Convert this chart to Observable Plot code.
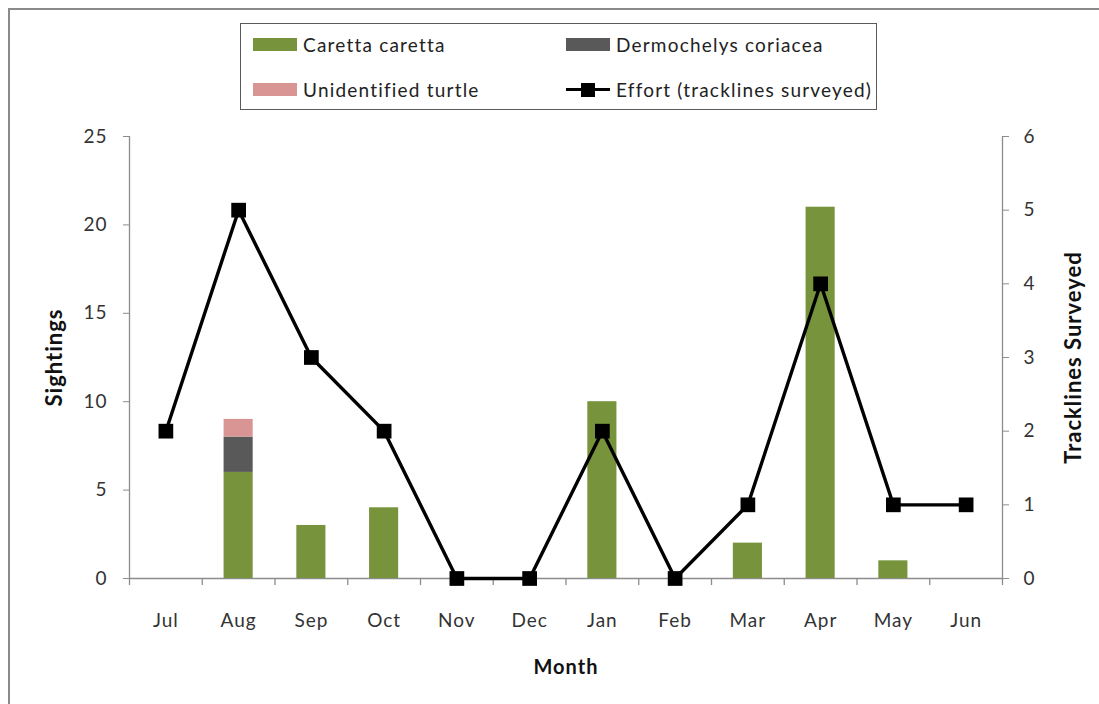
<!DOCTYPE html>
<html>
<head>
<meta charset="utf-8">
<script src="https://cdn.jsdelivr.net/npm/d3@7"></script>
<script src="https://cdn.jsdelivr.net/npm/@observablehq/plot@0.6"></script>
<style>
  html, body { margin: 0; padding: 0; background: #fff; }
  #wrap { position: relative; width: 1099px; height: 704px; overflow: hidden; font-family: Lato, "Open Sans", sans-serif; }
  #outer { position: absolute; left: 8px; top: 8px; width: 1200px; height: 800px; border-left: 2px solid #8a8a8a; border-top: 2px solid #8a8a8a; box-sizing: border-box; }
  #chart { position: absolute; left: 0; top: 0; }
  #legend { position: absolute; left: 240px; top: 23px; width: 637px; height: 87px; border: 1.5px solid #5a5a5a; box-sizing: border-box; background: #fff; }
  .item { position: absolute; display: flex; align-items: center; font-size: 19px; letter-spacing: 1.2px; color: #222; white-space: nowrap; }
  .sw { width: 44px; height: 13px; margin-right: 6px; }
  .ln { position: relative; width: 44px; height: 14px; margin-right: 6px; }
  .ln::before { content: ""; position: absolute; left: 0; right: 0; top: 5.5px; height: 3px; background: #000; }
  .ln::after { content: ""; position: absolute; left: 15px; top: 0; width: 14px; height: 14px; background: #000; }
</style>
</head>
<body>
<div id="wrap">
  <div id="outer"></div>
  <div id="chart"></div>
  <div id="legend"></div>
</div>
<script>
// ---- data ----
const months = ["Jul", "Aug", "Sep", "Oct", "Nov", "Dec", "Jan", "Feb", "Mar", "Apr", "May", "Jun"];
const caretta      = [0, 6, 3, 4, 0, 0, 10, 0, 2, 21, 1, 0];
const dermochelys  = [0, 2, 0, 0, 0, 0, 0, 0, 0, 0, 0, 0];
const unidentified = [0, 1, 0, 0, 0, 0, 0, 0, 0, 0, 0, 0];
const effort       = [2, 5, 3, 2, 0, 0, 2, 0, 1, 4, 1, 1];
const leftTicks  = [0, 5, 10, 15, 20, 25];
const rightTicks = [0, 1, 2, 3, 4, 5, 6];
const species = ["Caretta caretta", "Dermochelys coriacea", "Unidentified turtle"];
const speciesColors = ["#77933C", "#595959", "#D99594"];
const effortLabel = "Effort (tracklines surveyed)";

// ---- derived tables ----
const leftMax = 25, rightMax = 6;
const k = leftMax / rightMax; // maps effort onto sightings axis
const seriesValues = [caretta, dermochelys, unidentified];
const bars = [];
species.forEach((s, si) => months.forEach((m, mi) => {
  if (seriesValues[si][mi] > 0) bars.push({month: m, species: s, value: seriesValues[si][mi]});
}));
const effortData = months.map((m, i) => ({month: m, effort: effort[i]}));

const W = 1099, H = 704, mL = 129, mR = 97, mT = 136, mB = 126;
const step = (W - mL - mR) / months.length;
const axisGray = "#8c8c8c";
const textColor = "#333";

const chart = Plot.plot({
  width: W, height: H,
  marginLeft: mL, marginRight: mR, marginTop: mT, marginBottom: mB,
  style: {fontFamily: "Lato, 'Open Sans', sans-serif", fontSize: "19px", letterSpacing: "1px", background: "transparent", color: textColor},
  x: {domain: months, paddingInner: 0.6, paddingOuter: 0.3, round: false, axis: null},
  y: {domain: [0, leftMax], axis: null},
  color: {domain: species, range: speciesColors},
  marks: [
    // axis lines
    Plot.ruleY([0], {stroke: axisGray, strokeWidth: 1.3}),
    Plot.ruleX([months[0]], {x: d => d, y1: 0, y2: leftMax, dx: -step / 2, stroke: axisGray, strokeWidth: 1.3}),
    Plot.ruleX([months[months.length - 1]], {x: d => d, y1: 0, y2: leftMax, dx: step / 2, stroke: axisGray, strokeWidth: 1.3}),
    // x boundary ticks
    Plot.ruleX(months, {x: d => d, y1: 0, y2: 0, insetBottom: -7, dx: -step / 2, stroke: axisGray, strokeWidth: 1.3}),
    Plot.ruleX([months[months.length - 1]], {x: d => d, y1: 0, y2: 0, insetBottom: -7, dx: step / 2, stroke: axisGray, strokeWidth: 1.3}),
    // axes
    Plot.axisY({ticks: leftTicks, anchor: "left", tickSize: 6, tickPadding: 16, stroke: axisGray, fill: textColor, label: null}),
    Plot.axisY({ticks: rightTicks.map(v => v * k), tickFormat: v => String(Math.round(v / k)), anchor: "right", tickSize: 6, tickPadding: 15, stroke: axisGray, fill: textColor, label: null}),
    Plot.axisX({tickSize: 0, tickPadding: 35, fill: textColor, label: null}),
    // bars
    Plot.barY(bars, {x: "month", y: "value", fill: "species", order: species}),
    // effort line
    Plot.line(effortData, {x: "month", y: d => d.effort * k, stroke: "#000", strokeWidth: 3.4}),
    Plot.dot(effortData, {x: "month", y: d => d.effort * k, symbol: "square", r: 8.3, fill: "#000", stroke: null}),
    // axis titles
    Plot.text(["Sightings"], {frameAnchor: "left", textAnchor: "middle", dx: -75, rotate: -90, fontWeight: "bold", fill: "#111", fontSize: 22, style: "letter-spacing:0px"}),
    Plot.text(["Tracklines Surveyed"], {frameAnchor: "right", textAnchor: "middle", dx: 71, rotate: -90, fontWeight: "bold", fill: "#111", fontSize: 22}),
    Plot.text(["Month"], {frameAnchor: "bottom", textAnchor: "middle", dy: 95, fontWeight: "bold", fill: "#111", fontSize: 20})
  ]
});
document.getElementById("chart").appendChild(chart);

// ---- legend ----
const legend = document.getElementById("legend");
const items = [
  {label: species[0], color: speciesColors[0], left: 12, top: 9},
  {label: species[1], color: speciesColors[1], left: 325, top: 9},
  {label: species[2], color: speciesColors[2], left: 12, top: 54},
  {label: effortLabel, line: true, left: 325, top: 54}
];
items.forEach(it => {
  const d = document.createElement("div");
  d.className = "item";
  d.style.left = it.left + "px";
  d.style.top = it.top + "px";
  const sw = document.createElement("div");
  if (it.line) { sw.className = "ln"; } else { sw.className = "sw"; sw.style.background = it.color; }
  d.appendChild(sw);
  const t = document.createElement("span");
  t.textContent = it.label;
  d.appendChild(t);
  legend.appendChild(d);
});
</script>
</body>
</html>
